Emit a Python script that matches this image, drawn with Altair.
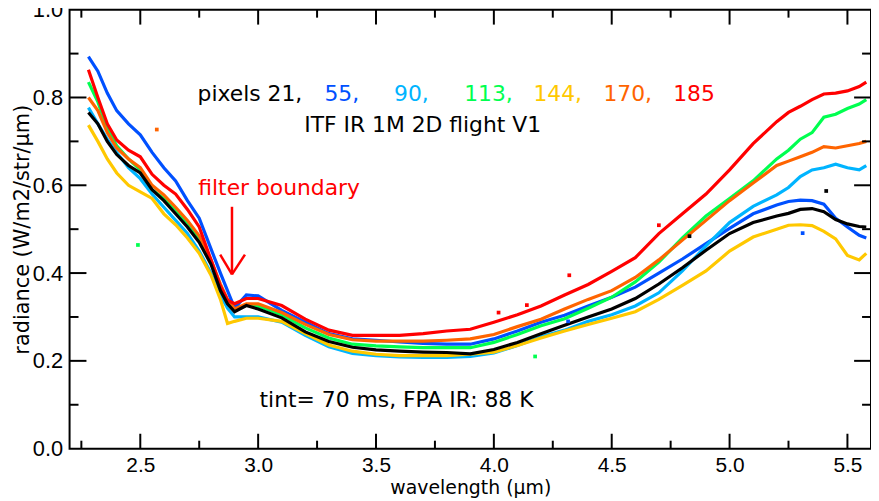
import altair as alt
import pandas as pd

# ---------------- data ----------------
wavelength = [2.28, 2.32, 2.36, 2.40, 2.45, 2.50, 2.55, 2.60, 2.65, 2.70, 2.75, 2.80,
              2.84, 2.87, 2.90, 2.95, 3.00, 3.10, 3.20, 3.30, 3.40, 3.50, 3.60, 3.70,
              3.80, 3.90, 4.00, 4.10, 4.20, 4.30, 4.40, 4.50, 4.60, 4.70, 4.80, 4.90,
              5.00, 5.10, 5.20, 5.25, 5.30, 5.35, 5.40, 5.45, 5.50, 5.55, 5.58]

pixel_21 = [0.766, 0.740, 0.700, 0.670, 0.645, 0.628, 0.590, 0.565, 0.535, 0.505, 0.470, 0.420,
            0.360, 0.330, 0.312, 0.326, 0.318, 0.298, 0.266, 0.244, 0.231, 0.225, 0.222, 0.220,
            0.219, 0.216, 0.226, 0.242, 0.262, 0.281, 0.300, 0.318, 0.342, 0.375, 0.412, 0.452,
            0.490, 0.515, 0.530, 0.536, 0.545, 0.547, 0.540, 0.522, 0.512, 0.506, 0.505]

pixel_55 = [0.893, 0.860, 0.810, 0.770, 0.740, 0.715, 0.675, 0.640, 0.610, 0.565, 0.525, 0.455,
            0.400, 0.360, 0.320, 0.350, 0.348, 0.315, 0.288, 0.262, 0.250, 0.247, 0.243, 0.240,
            0.238, 0.238, 0.250, 0.268, 0.288, 0.304, 0.325, 0.345, 0.368, 0.400, 0.432, 0.467,
            0.502, 0.535, 0.555, 0.563, 0.566, 0.565, 0.557, 0.525, 0.505, 0.486, 0.480]

pixel_90 = [0.777, 0.740, 0.705, 0.675, 0.640, 0.615, 0.580, 0.550, 0.520, 0.490, 0.450, 0.400,
            0.350, 0.320, 0.300, 0.300, 0.300, 0.288, 0.258, 0.232, 0.217, 0.212, 0.209, 0.208,
            0.208, 0.210, 0.218, 0.235, 0.255, 0.270, 0.290, 0.305, 0.325, 0.355, 0.405, 0.462,
            0.515, 0.552, 0.578, 0.595, 0.620, 0.635, 0.640, 0.648, 0.640, 0.635, 0.645]

pixel_113 = [0.835, 0.790, 0.730, 0.690, 0.660, 0.635, 0.590, 0.570, 0.545, 0.515, 0.480, 0.425,
             0.370, 0.335, 0.315, 0.327, 0.325, 0.305, 0.275, 0.252, 0.238, 0.234, 0.232, 0.230,
             0.230, 0.230, 0.242, 0.260, 0.280, 0.296, 0.320, 0.345, 0.380, 0.425, 0.480, 0.530,
             0.570, 0.610, 0.660, 0.680, 0.705, 0.720, 0.755, 0.762, 0.775, 0.785, 0.795]

pixel_144 = [0.737, 0.700, 0.660, 0.628, 0.600, 0.585, 0.570, 0.535, 0.510, 0.480, 0.445, 0.395,
             0.340, 0.285, 0.290, 0.297, 0.297, 0.290, 0.262, 0.236, 0.222, 0.215, 0.212, 0.212,
             0.212, 0.215, 0.220, 0.235, 0.252, 0.268, 0.283, 0.297, 0.312, 0.340, 0.372, 0.405,
             0.450, 0.482, 0.500, 0.509, 0.510, 0.508, 0.495, 0.478, 0.440, 0.430, 0.445]

pixel_170 = [0.800, 0.770, 0.720, 0.685, 0.660, 0.640, 0.600, 0.578, 0.550, 0.520, 0.485, 0.430,
             0.375, 0.340, 0.318, 0.330, 0.330, 0.310, 0.283, 0.260, 0.248, 0.245, 0.245, 0.245,
             0.247, 0.250, 0.260, 0.278, 0.295, 0.318, 0.340, 0.360, 0.390, 0.430, 0.475, 0.520,
             0.565, 0.605, 0.645, 0.655, 0.665, 0.675, 0.688, 0.685, 0.690, 0.695, 0.700]

pixel_185 = [0.863, 0.800, 0.740, 0.703, 0.680, 0.665, 0.625, 0.600, 0.580, 0.545, 0.505, 0.430,
             0.370, 0.338, 0.330, 0.342, 0.342, 0.326, 0.295, 0.270, 0.258, 0.258, 0.258, 0.262,
             0.268, 0.272, 0.288, 0.305, 0.325, 0.350, 0.374, 0.404, 0.435, 0.490, 0.535, 0.580,
             0.635, 0.695, 0.745, 0.766, 0.780, 0.795, 0.808, 0.810, 0.815, 0.825, 0.835]

series_names = ["55", "90", "113", "144", "170", "185", "21"]
series_values = [pixel_55, pixel_90, pixel_113, pixel_144, pixel_170, pixel_185, pixel_21]
series_colors = ["#0050ff", "#00b4ff", "#00ff50", "#ffc800", "#ff6400", "#ff0000", "#000000"]

# isolated stray points
stray_x = [2.57, 2.49, 4.02, 4.14, 4.32, 4.175, 4.315, 4.70, 4.83, 5.31, 5.41]
stray_y = [0.727, 0.464, 0.310, 0.327, 0.395, 0.210, 0.290, 0.509, 0.484, 0.491, 0.587]
stray_c = ["#ff6400", "#00ff50", "#ff0000", "#ff0000", "#ff0000", "#00ff50", "#0050ff",
           "#ff0000", "#000000", "#0050ff", "#000000"]

# annotation texts
label_parts = ["pixels 21,", "55,", "90,", "113,", "144,", "170,", "185"]
label_x = [2.965, 3.355, 3.650, 3.977, 4.271, 4.568, 4.849]
label_colors = ["#000000", "#0050ff", "#00b4ff", "#00ff50", "#ffc800", "#ff6400", "#ff0000"]
label_y = 0.792

note_text = ["ITF IR 1M 2D flight V1", "filter boundary", "tint= 70 ms, FPA IR: 88 K"]
note_x = [3.698, 3.089, 3.587]
note_y = [0.721, 0.578, 0.095]
note_c = ["#000000", "#ff0000", "#000000"]

# arrow (shaft + two head strokes)
arrow_x = [2.889, 2.839, 2.944]
arrow_y = [0.551, 0.442, 0.442]
arrow_x2 = [2.889, 2.889, 2.889]
arrow_y2 = [0.397, 0.397, 0.397]

x_major = [2.5, 3.0, 3.5, 4.0, 4.5, 5.0, 5.5]
x_minor = [2.25, 2.75, 3.25, 3.75, 4.25, 4.75, 5.25]
y_labels = [0.0, 0.2, 0.4, 0.6, 0.8, 1.0]
y_major = [0.2, 0.4, 0.6, 0.8]
y_minor = [0.1, 0.3, 0.5, 0.7, 0.9]

# ---------------- chart ----------------
W, H = 807, 442
xs = alt.Scale(domain=[2.2, 5.6], nice=False, zero=False)
ys = alt.Scale(domain=[0.0, 1.0], nice=False, zero=False)

xaxis = alt.Axis(values=x_major, format=".1f", title="wavelength (μm)", grid=False,
                 ticks=False, domain=False, labelFont="Liberation Sans", labelFontSize=21,
                 labelPadding=6, labelColor="black", labelFlush=False, labelOverlap=False,
                 titleFont="DejaVu Sans", titleFontSize=19, titleFontWeight="normal",
                 titleColor="black", titleY=45, titleBaseline="alphabetic")
yaxis = alt.Axis(values=y_labels, format=".1f", title="radiance (W/m2/str/μm)", grid=False,
                 ticks=False, domain=False, labelFont="Liberation Sans", labelFontSize=22,
                 labelPadding=7, labelColor="black", labelFlush=False, labelOverlap=False,
                 titleFont="DejaVu Sans", titleFontSize=21, titleFontWeight="normal",
                 titleColor="black", titleX=-41, titleY=H / 2, titleAngle=270,
                 titleAlign="center", titleBaseline="alphabetic")

X = alt.X("wavelength:Q", scale=xs, axis=xaxis)
Y = alt.Y("radiance:Q", scale=ys, axis=yaxis)

layers = []
for name, vals, col in zip(series_names, series_values, series_colors):
    df = pd.DataFrame({"wavelength": wavelength, "radiance": vals})
    layers.append(alt.Chart(df).mark_line(color=col, strokeWidth=3.2).encode(x=X, y=Y))

stray_df = pd.DataFrame({"wavelength": stray_x, "radiance": stray_y, "c": stray_c})
layers.append(alt.Chart(stray_df).mark_square(size=14, opacity=1).encode(
    x=X, y=Y, color=alt.Color("c:N", scale=None)))

lab_df = pd.DataFrame({"wavelength": label_x, "radiance": [label_y] * len(label_x),
                       "t": label_parts, "c": label_colors})
layers.append(alt.Chart(lab_df).mark_text(font="DejaVu Sans", fontSize=22, align="center",
                                          baseline="alphabetic").encode(
    x=X, y=Y, text="t:N", color=alt.Color("c:N", scale=None)))

note_df = pd.DataFrame({"wavelength": note_x, "radiance": note_y, "t": note_text, "c": note_c})
layers.append(alt.Chart(note_df).mark_text(font="DejaVu Sans", fontSize=22, align="center",
                                           baseline="alphabetic").encode(
    x=X, y=Y, text="t:N", color=alt.Color("c:N", scale=None)))

arrow_df = pd.DataFrame({"wavelength": arrow_x, "radiance": arrow_y,
                         "w2": arrow_x2, "r2": arrow_y2})
layers.append(alt.Chart(arrow_df).mark_rule(color="#ff0000", strokeWidth=2.5).encode(
    x=X, y=Y, x2="w2:Q", y2="r2:Q"))

# inward ticks (IDL style box)
def xticks(vals, length):
    df = pd.DataFrame({"wavelength": vals})
    bottom = alt.Chart(df).mark_rule(color="black", strokeWidth=2).encode(
        x=X, y=alt.value(H), y2=alt.value(H - length))
    top = alt.Chart(df).mark_rule(color="black", strokeWidth=2).encode(
        x=X, y=alt.value(0), y2=alt.value(length))
    return [bottom, top]

def yticks(vals, length):
    df = pd.DataFrame({"radiance": vals})
    left = alt.Chart(df).mark_rule(color="black", strokeWidth=2).encode(
        y=Y, x=alt.value(0), x2=alt.value(length))
    right = alt.Chart(df).mark_rule(color="black", strokeWidth=2).encode(
        y=Y, x=alt.value(W), x2=alt.value(W - length))
    return [left, right]

layers += xticks(x_major, 15) + xticks(x_minor, 8) + yticks(y_major, 17) + yticks(y_minor, 9)

chart = alt.layer(*layers).properties(
    width=W, height=H,
    padding={"left": 62, "top": 0, "right": 0, "bottom": 50},
    autosize=alt.AutoSizeParams(type="none"),
    background="white",
).configure_view(stroke="black", strokeWidth=2)

chart.save("out.html", embed_options={"renderer": "svg", "actions": False})
